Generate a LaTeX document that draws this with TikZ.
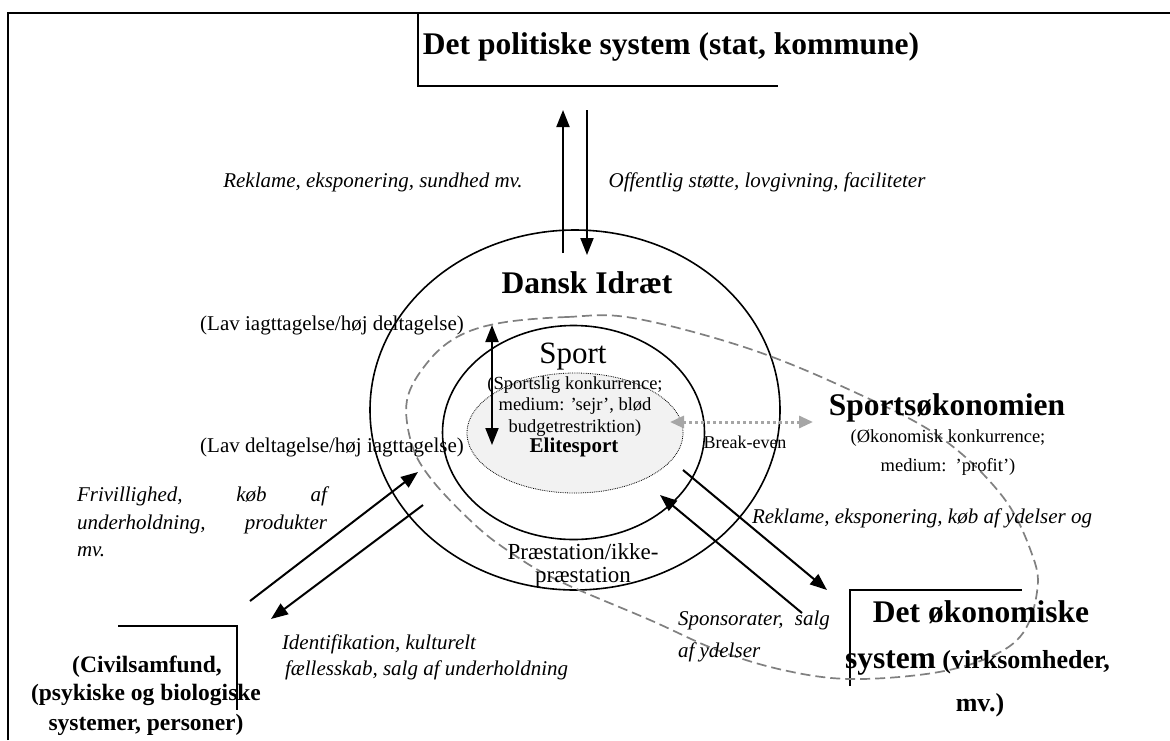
\documentclass[tikz,border=0pt]{standalone}
\usepackage{fontspec}
\setmainfont{Liberation Serif}
\usetikzlibrary{arrows.meta,shapes.geometric}
\begin{document}
\begin{tikzpicture}[x=1pt,y=-1pt,
  every node/.style={inner sep=0pt,outer sep=0pt},
  big/.style={font=\fontsize{31.5}{36}\selectfont\bfseries},
  body/.style={font=\fontsize{21}{25}\selectfont},
  itx/.style={font=\fontsize{21}{25}\selectfont\itshape},
  smallx/.style={font=\fontsize{18.5}{21.5}\selectfont},
  civ/.style={font=\fontsize{23.5}{28}\selectfont\bfseries},
  arr/.style={line width=2pt,-{Triangle[length=17pt,width=13pt]}},
  darr/.style={line width=2pt,{Triangle[length=17pt,width=13pt]}-{Triangle[length=17pt,width=13pt]}},
  boxline/.style={line width=1.6pt},
  ring/.style={draw,ellipse,line width=1.6pt},
]
\useasboundingbox (0,0) rectangle (1170,740);
\fill[white] (0,0) rectangle (1170,740);
% frame
\draw[line width=2.2pt] (8,740) -- (8,13) -- (1170,13);
% system boxes
\draw[boxline] (418,13) -- (418,86) -- (778,86);
\draw[boxline] (850,686) -- (850,590) -- (1022,590);
\draw[boxline] (118,626) -- (237,626) -- (237,710);
% ellipses
\node[ring,minimum width=410pt,minimum height=360pt] (dansk) at (575,410) {};
\node[draw,ellipse,densely dotted,line width=0.8pt,fill=gray!10,minimum width=216pt,minimum height=120pt] (elite) at (575,433) {};
\node[ring,minimum width=262pt,minimum height=214pt] (sport) at (573.5,432.5) {};
% dashed blob
\draw[gray,line width=1.7pt,dash pattern=on 10pt off 5pt]
  plot[smooth cycle,tension=0.6] coordinates {(500,323) (567,317) (633,318) (747,348) (850,390) (940,437) (1003,497) (1033,557) (1037,592) (1023,633) (990,657) (933,673) (850,679) (783,670) (717,650) (650,620) (557,580) (507,550) (473,523) (432,480) (412,445) (407,400) (427,363) (457,337)};
% coordinates
\coordinate (u1) at (563,253); \coordinate (u2) at (563,110);
\coordinate (d1) at (587,110); \coordinate (d2) at (587,255);
\coordinate (v1) at (492,445); \coordinate (v2) at (492,325);
\coordinate (c1) at (250,601); \coordinate (c2) at (418,472);
\coordinate (c3) at (423,505); \coordinate (c4) at (271,619);
\coordinate (e1) at (683,470); \coordinate (e2) at (827,590);
\coordinate (e3) at (802,613); \coordinate (e4) at (660,495);
\coordinate (b1) at (670,422); \coordinate (b2) at (813,422);
% arrows
\draw[arr] (u1) -- (u2);
\draw[arr] (d1) -- (d2);
\draw[darr] (v1) -- (v2);
\draw[arr] (c1) -- (c2);
\draw[arr] (c3) -- (c4);
\draw[arr] (e1) -- (e2);
\draw[arr] (e3) -- (e4);
\draw[gray!70,line width=3pt,dash pattern=on 3pt off 3pt,
  {Triangle[length=14pt,width=12pt]}-{Triangle[length=14pt,width=12pt]}] (b1) -- (b2);
% texts
\node[big] (title) at (671,47) {Det politiske system (stat, kommune)};
\node[itx] (lrek) at (373,182) {Reklame, eksponering, sundhed mv.};
\node[itx] (loff) at (767,182) {Offentlig støtte, lovgivning, faciliteter};
\node[big] (danskT) at (587,283) {Dansk Idræt};
\node[body] (lav1) at (332,325) {(Lav iagttagelse/høj deltagelse)};
\node[body] (lav2) at (332,447) {(Lav deltagelse/høj iagttagelse)};
\node[font=\fontsize{31}{36}\selectfont] (sportT) at (573,357) {Sport};
\node[smallx] (sd1) at (575,385) {(Sportslig konkurrence;};
\node[smallx] (sd2) at (575,406) {medium: ’sejr’, blød};
\node[smallx] (sd3) at (575,428) {budgetrestriktion)};
\node[font=\fontsize{21}{25}\selectfont\bfseries] (eliteT) at (574,447) {Elitesport};
\node[font=\fontsize{18}{21}\selectfont] (be) at (745,442) {Break-even};
\node[big] (sok) at (947,408) {Sportsøkonomien};
\node[smallx] (sok1) at (948,438) {(Økonomisk konkurrence;};
\node[smallx] (sok2) at (948,467) {medium:\ \ ’profit’)};
\node[itx] (rek2) at (922,518) {Reklame, eksponering, køb af ydelser og};
\node[itx,anchor=west] (fr1) at (77,496) {\makebox[250pt][s]{Frivillighed, køb af}};
\node[itx,anchor=west] (fr2) at (77,524) {\makebox[250pt][s]{underholdning, produkter}};
\node[itx,anchor=west] (fr3) at (77,552) {mv.};
\node[font=\fontsize{23}{27}\selectfont] (pr1) at (583,552) {Præstation/ikke-};
\node[font=\fontsize{23}{27}\selectfont] (pr2) at (583,577) {præstation};
\node[itx,anchor=west] (id1) at (282,644) {Identifikation, kulturelt};
\node[itx,anchor=west] (id2) at (285,670) {fællesskab, salg af underholdning};
\node[itx,anchor=west] (sp1) at (678,620) {\makebox[152pt][s]{Sponsorater, salg}};
\node[itx,anchor=west] (sp2) at (678,652) {af ydelser};
\node[big] (eco1) at (981,612) {Det økonomiske};
\node[anchor=base west] (eco2) at (845,668) {\fontsize{31.5}{36}\selectfont\bfseries system\fontsize{26}{30}\selectfont\ (virksomheder,};
\node[font=\fontsize{26}{30}\selectfont\bfseries] (eco3) at (980,705) {mv.)};
\node[civ] (cv1) at (147,667) {(Civilsamfund,};
\node[civ] (cv2) at (146,695) {(psykiske og biologiske};
\node[civ] (cv3) at (146,725) {systemer, personer)};
\end{tikzpicture}
\end{document}
